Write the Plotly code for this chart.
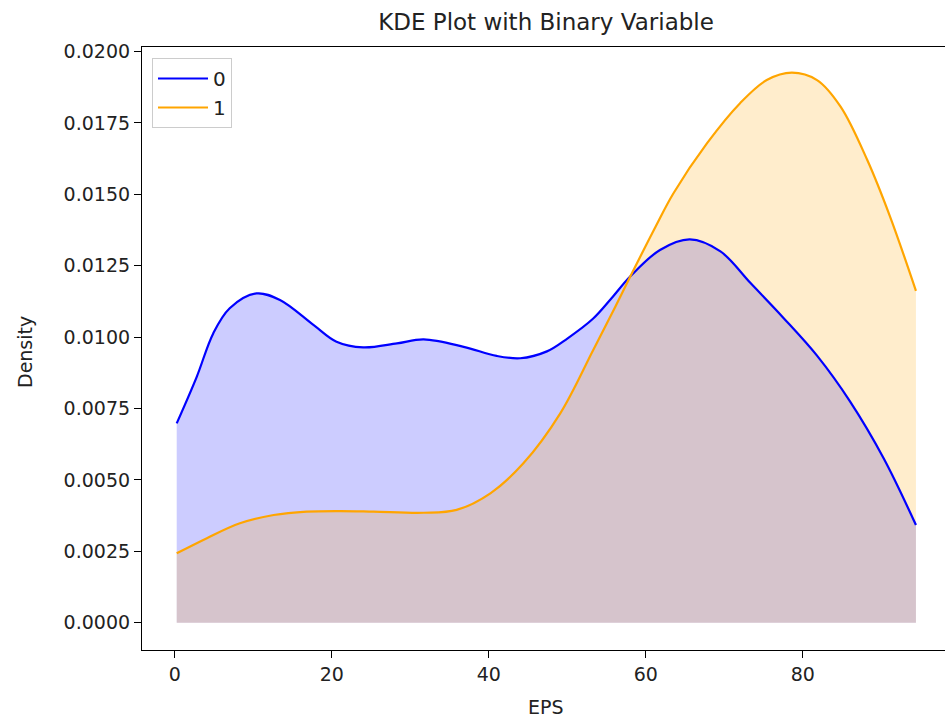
import plotly.graph_objects as go

# Data
eps_0 = [0.25, 2.8, 4.9, 7.0, 10.4, 13.4, 17.7, 20.6, 24.0, 28.3, 31.7, 36.8, 41.0, 44.0,
         47.4, 50.0, 53.3, 55.6, 58.0, 61.8, 65.6, 69.5, 73.3, 77.5, 81.8, 86.0, 90.3,
         94.4]
dens_0 = [0.00698, 0.00861, 0.01013, 0.01101, 0.01153, 0.01130, 0.01042, 0.00984, 0.00964,
          0.00978, 0.00992, 0.00966, 0.00934, 0.00926, 0.00950, 0.00995, 0.01065, 0.01135,
          0.01212, 0.01305, 0.01342, 0.01300, 0.01190, 0.01068, 0.00935, 0.00775, 0.00575,
          0.00342]

eps_1 = [0.25, 4.1, 8.3, 12.6, 16.8, 21.1, 25.3, 31.7, 35.9, 40.2, 44.4, 49.1, 53.3, 56.0,
         58.0, 61.3, 63.5, 67.8, 72.0, 75.4, 78.6, 81.8, 84.8, 88.2, 91.1, 94.4]
dens_1 = [0.00243, 0.00296, 0.00348, 0.00377, 0.00389, 0.00391, 0.00389, 0.00385, 0.00395,
          0.00453, 0.00558, 0.00733, 0.00955, 0.01100, 0.01211, 0.01390, 0.01503, 0.01679,
          0.01819, 0.01900, 0.01926, 0.01900, 0.01807, 0.01620, 0.01422, 0.01162]

labels = ["0", "1"]
line_colors = ["blue", "orange"]
fill_colors = ["rgba(0,0,255,0.2)", "rgba(255,165,0,0.2)"]

series = [(eps_0, dens_0), (eps_1, dens_1)]

fig = go.Figure()
# fills first
for (xs, ys), fc in zip(series, fill_colors):
    fig.add_trace(go.Scatter(x=xs, y=ys, mode="lines", fill="tozeroy", fillcolor=fc,
                             line=dict(width=0, shape="spline", smoothing=1.0),
                             showlegend=False, hoverinfo="skip"))
# lines on top
for (xs, ys), lc, lab in zip(series, line_colors, labels):
    fig.add_trace(go.Scatter(x=xs, y=ys, mode="lines", name=lab,
                             line=dict(color=lc, width=2.2, shape="spline", smoothing=1.0)))

font = "DejaVu Sans, Arial, sans-serif"
L, T, B_PX, W, H = 142, 47, 650, 945, 720

fig.update_layout(
    width=W, height=H,
    margin=dict(l=L, r=0, t=T, b=H - B_PX),
    paper_bgcolor="white", plot_bgcolor="white",
    font=dict(family=font, size=19, color="#222"),
    title=dict(text="KDE Plot with Binary Variable", x=546 / W, xref="container",
               xanchor="center", y=1 - 22 / H, yref="container", yanchor="middle",
               font=dict(size=23, color="#222")),
    xaxis=dict(range=[-4.17, 98.1], tickvals=[0, 20, 40, 60, 80],
               showgrid=False, zeroline=False, showline=True, linecolor="black",
               linewidth=1.2, mirror=True, ticks="outside", ticklen=7,
               tickcolor="black", tickwidth=1.2, tickfont=dict(size=19)),
    yaxis=dict(range=[-0.000956, 0.020158],
               tickvals=[0, 0.0025, 0.005, 0.0075, 0.01, 0.0125, 0.015, 0.0175, 0.02],
               tickformat=".4f",
               showgrid=False, zeroline=False, showline=True, linecolor="black",
               linewidth=1.2, ticks="outside", ticklen=7,
               tickcolor="black", tickwidth=1.2, tickfont=dict(size=19)),
    legend=dict(x=(152 - L) / (W - L), y=(B_PX - 58) / (B_PX - T), xanchor="left",
                yanchor="top", bgcolor="rgba(255,255,255,0.8)", bordercolor="#cccccc",
                borderwidth=1, font=dict(size=20, color="#222"), itemwidth=50),
    annotations=[
        dict(text="EPS", x=(546 - L) / (W - L), y=(B_PX - 707) / (B_PX - T),
             xref="paper", yref="paper", showarrow=False, xanchor="center",
             yanchor="middle", font=dict(size=19, color="#222")),
        dict(text="Density", x=(25 - L) / (W - L), y=(B_PX - 352) / (B_PX - T),
             xref="paper", yref="paper", showarrow=False, xanchor="center",
             yanchor="middle", textangle=-90, font=dict(size=19, color="#222")),
    ],
)

fig.write_html("out.html")
